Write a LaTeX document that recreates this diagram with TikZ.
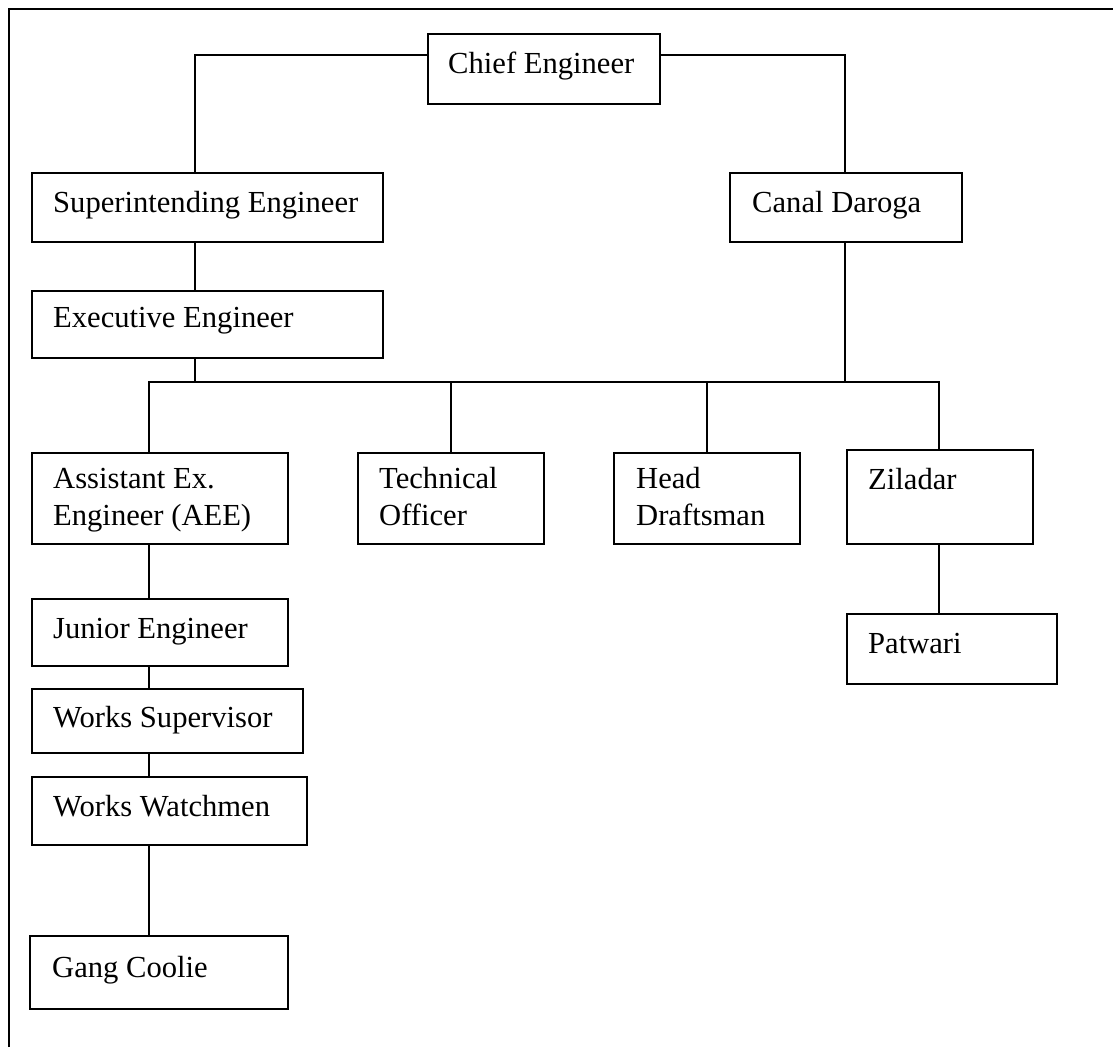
\documentclass[tikz,border=0pt]{standalone}
\usepackage{fontspec}
\setmainfont{Liberation Serif}
\begin{document}
\begin{tikzpicture}[x=1pt,y=-1pt,
  box/.style={draw, line width=1.6pt, anchor=north west, inner sep=0pt},
  lbl/.style={anchor=base west, inner sep=0pt, font=\fontsize{30.6}{37}\selectfont},
  conn/.style={line width=1.4pt}]
\useasboundingbox (0,0) rectangle (1113,1047);
\draw[line width=2pt] (9,1047) -- (9,9) -- (1113,9);
% boxes
\node[box, minimum width=232pt, minimum height=70pt] (ce) at (427,33) {};
\node[box, minimum width=351pt, minimum height=69pt] (se) at (31,172) {};
\node[box, minimum width=232pt, minimum height=69pt] (cd) at (729,172) {};
\node[box, minimum width=351pt, minimum height=67pt] (ee) at (31,290) {};
\node[box, minimum width=256pt, minimum height=91pt] (aee) at (31,452) {};
\node[box, minimum width=186pt, minimum height=91pt] (to) at (357,452) {};
\node[box, minimum width=186pt, minimum height=91pt] (hd) at (613,452) {};
\node[box, minimum width=186pt, minimum height=94pt] (zi) at (846,449) {};
\node[box, minimum width=210pt, minimum height=70pt] (pa) at (846,613) {};
\node[box, minimum width=256pt, minimum height=67pt] (je) at (31,598) {};
\node[box, minimum width=271pt, minimum height=64pt] (ws) at (31,688) {};
\node[box, minimum width=275pt, minimum height=68pt] (ww) at (31,776) {};
\node[box, minimum width=258pt, minimum height=73pt] (gc) at (29,935) {};
% labels
\node[lbl] at ([shift={(21,40)}]ce.north west) {Chief Engineer};
\node[lbl] at ([shift={(22,40)}]se.north west) {Superintending Engineer};
\node[lbl] at ([shift={(23,40)}]cd.north west) {Canal Daroga};
\node[lbl] at ([shift={(22,37)}]ee.north west) {Executive Engineer};
\node[lbl] at ([shift={(22,36)}]aee.north west) {\begin{tabular}[t]{@{}l@{}}Assistant Ex.\\Engineer (AEE)\end{tabular}};
\node[lbl] at ([shift={(22,36)}]to.north west) {\begin{tabular}[t]{@{}l@{}}Technical\\Officer\end{tabular}};
\node[lbl] at ([shift={(23,36)}]hd.north west) {\begin{tabular}[t]{@{}l@{}}Head\\Draftsman\end{tabular}};
\node[lbl] at ([shift={(22,40)}]zi.north west) {Ziladar};
\node[lbl] at ([shift={(22,40)}]pa.north west) {Patwari};
\node[lbl] at ([shift={(22,40)}]je.north west) {Junior Engineer};
\node[lbl] at ([shift={(22,39)}]ws.north west) {Works Supervisor};
\node[lbl] at ([shift={(22,40)}]ww.north west) {Works Watchmen};
\node[lbl] at ([shift={(23,42)}]gc.north west) {Gang Coolie};
% junctions
\coordinate (j1) at (195,55);
\coordinate (j2) at (845,55);
\coordinate (b1) at (149,382);
\coordinate (b2) at (451,382);
\coordinate (b3) at (707,382);
\coordinate (b4) at (939,382);
% connectors
\draw[conn] (ce.west |- j1) -- (j1) -- (j1 |- se.north);
\draw[conn] (ce.east |- j2) -- (j2) -- (j2 |- cd.north);
\draw[conn] (j1 |- se.south) -- (j1 |- ee.north);
\draw[conn] (j1 |- ee.south) -- (j1 |- b1);
\draw[conn] (j2 |- cd.south) -- (j2 |- b4);
\draw[conn] (b1 |- aee.north) -- (b1) -- (b4) -- (b4 |- zi.north);
\draw[conn] (b2) -- (b2 |- to.north);
\draw[conn] (b3) -- (b3 |- hd.north);
\draw[conn] (b4 |- zi.south) -- (b4 |- pa.north);
\draw[conn] (b1 |- aee.south) -- (b1 |- je.north);
\draw[conn] (b1 |- je.south) -- (b1 |- ws.north);
\draw[conn] (b1 |- ws.south) -- (b1 |- ww.north);
\draw[conn] (b1 |- ww.south) -- (b1 |- gc.north);
\end{tikzpicture}
\end{document}
